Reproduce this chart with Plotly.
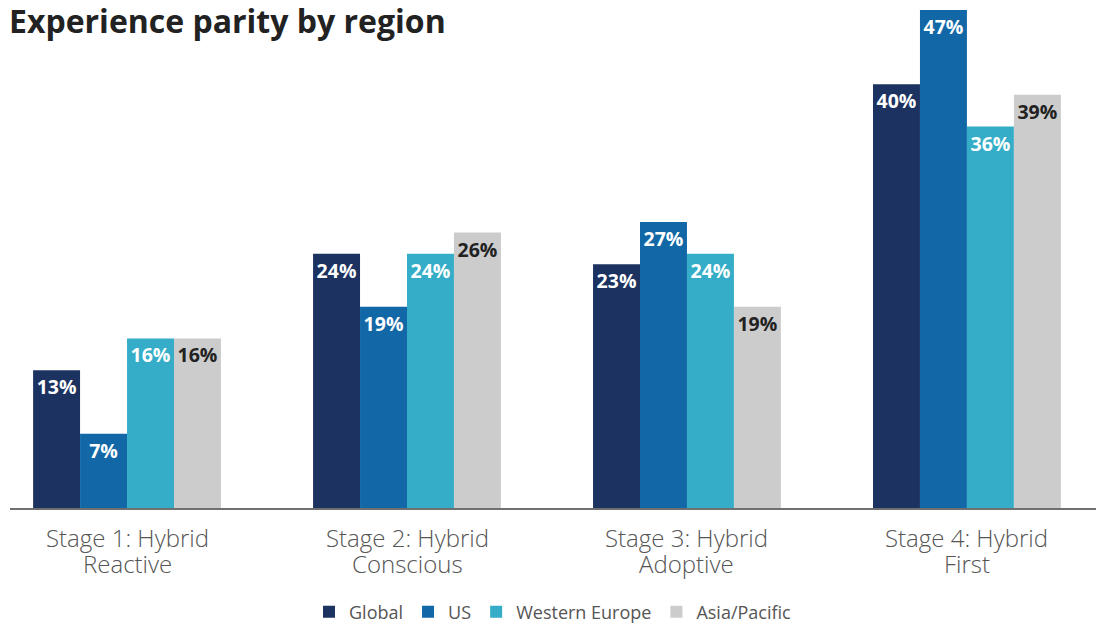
import plotly.graph_objects as go

# Hybrid work maturity stages (two-line category labels) and regional shares (%)
stage_line1 = ["Stage 1: Hybrid", "Stage 2: Hybrid", "Stage 3: Hybrid", "Stage 4: Hybrid"]
stage_line2 = ["Reactive", "Conscious", "Adoptive", "First"]
stages = [f"{a} {b}" for a, b in zip(stage_line1, stage_line2)]

global_vals = [13, 24, 23, 40]
us_vals = [7, 19, 27, 47]
western_europe_vals = [16, 24, 24, 36]
asia_pacific_vals = [16, 26, 19, 39]

series = [
    ("Global", global_vals, "#1c3260", "#ffffff"),
    ("US", us_vals, "#1268a6", "#ffffff"),
    ("Western Europe", western_europe_vals, "#35adc8", "#ffffff"),
    ("Asia/Pacific", asia_pacific_vals, "#cccccc", "#222222"),
]

fig = go.Figure()
for name, vals, color, text_color in series:
    fig.add_trace(go.Bar(
        name=name,
        x=stages,
        y=vals,
        marker=dict(color=color, line=dict(width=0)),
        text=[f"{v}%" for v in vals],
        textposition="inside",
        insidetextanchor="end",
        textangle=0,
        constraintext="none",
        insidetextfont=dict(family="Open Sans", size=19.5, color=text_color, weight=700),
        hoverinfo="skip",
    ))

# Category labels: two tightly spaced lines under each group
label_font = dict(family="Open Sans", size=24, color="#555555", weight=300)
for stage, l1, l2 in zip(stages, stage_line1, stage_line2):
    for text, shift in ((l1, -12), (l2, -38)):
        fig.add_annotation(
            x=stage, xref="x", y=0, yref="paper",
            text=text, showarrow=False,
            xanchor="center", yanchor="top", yshift=shift,
            borderpad=0,
            font=label_font,
        )

fig.update_layout(
    width=1096,
    height=623,
    barmode="group",
    bargap=0.329,
    bargroupgap=0,
    paper_bgcolor="white",
    plot_bgcolor="white",
    margin=dict(l=10, r=0, t=10, b=115),
    title=dict(
        text="Experience parity by region",
        font=dict(family="Open Sans", size=32, color="#222222", weight=700),
        xref="container", x=9 / 1096, xanchor="left",
        yref="container", y=1 - 22 / 623, yanchor="middle",
    ),
    legend=dict(
        orientation="h",
        xref="paper", x=0.5, xanchor="center",
        yref="container", y=11 / 623, yanchor="middle",
        font=dict(family="Open Sans", size=18, color="#555555"),
        traceorder="normal",
    ),
    xaxis=dict(
        range=[-0.418, 3.461],
        showline=True,
        linecolor="#707070",
        linewidth=1.5,
        showgrid=False,
        ticks="",
        showticklabels=False,
    ),
    yaxis=dict(
        range=[0, 47],
        visible=False,
        showgrid=False,
        zeroline=False,
    ),
)

fig.write_html("out.html")
